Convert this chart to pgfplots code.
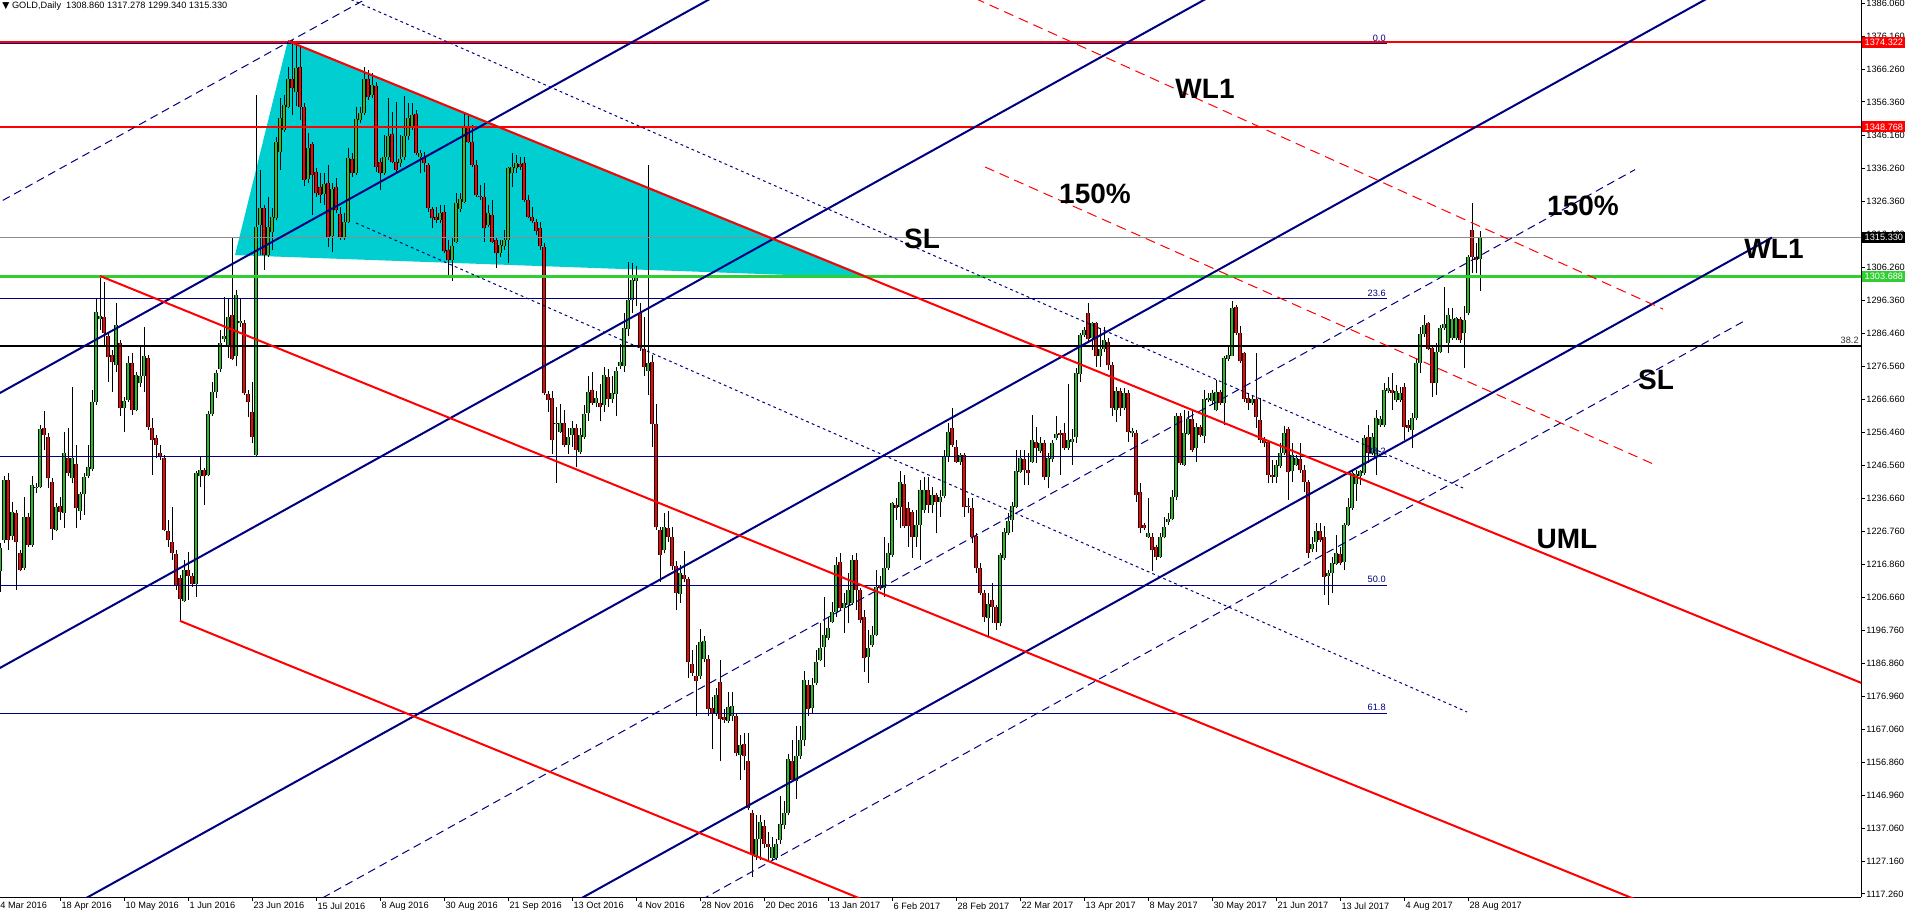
\documentclass[border=0pt]{standalone}
\usepackage{pgfplots}
\pgfplotsset{compat=1.18}
\usepackage{pgfplotstable}
\usepackage{fontspec}
\setmainfont{Liberation Sans}
\newfontfamily\djv{DejaVu Sans}

\definecolor{navyc}{RGB}{0,0,128}
\definecolor{redc}{RGB}{255,0,0}
\definecolor{limec}{RGB}{50,205,50}
\definecolor{cyanc}{RGB}{0,206,209}
\definecolor{candg}{RGB}{40,190,40}
\definecolor{grayc}{RGB}{140,140,140}

\newcommand\mt{\fontsize{4.6}{5.5}\selectfont}
\newcommand\lbl{\fontsize{14}{16}\selectfont\bfseries}

% daily candles, k = bar index (4 px per bar)
\pgfplotstableread{
k o h l c
0 1214.6 1223.1 1208.5 1221.6
1 1224.1 1243.3 1223.1 1242.2
2 1242.2 1244.3 1221.1 1224.1
3 1225.2 1235.7 1224.1 1232.7
4 1232.2 1233.2 1209.1 1223.6
5 1220.1 1221.1 1214.6 1215.1
6 1215.6 1237.2 1215.1 1231.2
7 1231.2 1232.2 1222.1 1222.6
8 1222.6 1243.3 1222.1 1240.7
9 1239.7 1241.2 1238.2 1240.0
10 1240.0 1258.9 1239.7 1257.5
11 1257.8 1262.9 1251.3 1255.8
12 1255.1 1256.3 1239.7 1242.7
13 1241.7 1242.7 1224.1 1227.4
14 1227.2 1235.2 1226.7 1234.2
15 1234.4 1237.2 1230.2 1232.7
16 1232.2 1256.8 1227.7 1250.3
17 1248.8 1257.8 1243.3 1244.3
18 1242.7 1270.4 1241.2 1248.8
19 1247.0 1252.8 1227.7 1233.7
20 1232.9 1238.7 1230.2 1237.9
21 1237.9 1244.3 1231.7 1243.1
22 1243.5 1252.8 1242.7 1246.1
23 1245.5 1269.4 1244.8 1265.9
24 1265.9 1297.1 1264.9 1292.8
25 1290.7 1304.1 1287.5 1291.7
26 1291.3 1302.1 1282.5 1286.7
27 1285.7 1287.0 1271.9 1279.3
28 1280.0 1281.5 1268.9 1277.7
29 1277.0 1295.6 1274.9 1289.0
30 1283.5 1284.5 1261.4 1263.9
31 1263.9 1267.4 1256.8 1266.2
32 1266.4 1279.5 1265.9 1277.5
33 1277.5 1280.5 1261.9 1263.4
34 1263.4 1274.9 1262.9 1273.9
35 1271.4 1283.0 1270.4 1273.7
36 1273.6 1288.5 1268.9 1279.7
37 1279.0 1280.0 1257.3 1258.3
38 1257.8 1260.9 1243.8 1254.3
39 1254.8 1255.8 1248.8 1252.8
40 1250.5 1252.8 1248.3 1249.3
41 1249.0 1249.8 1226.7 1227.2
42 1226.7 1230.2 1222.1 1224.1
43 1223.4 1234.2 1218.1 1220.1
44 1219.9 1221.1 1209.1 1210.3
45 1212.6 1213.6 1199.8 1206.2
46 1205.8 1218.1 1205.5 1215.1
47 1215.1 1220.6 1206.0 1213.3
48 1213.3 1214.1 1210.0 1210.9
49 1210.9 1244.8 1207.0 1244.3
50 1243.3 1249.3 1240.0 1245.1
51 1245.1 1245.8 1234.7 1243.5
52 1243.8 1262.9 1243.3 1262.2
53 1262.1 1271.9 1261.4 1268.9
54 1268.9 1275.4 1266.9 1274.4
55 1275.7 1287.5 1274.9 1283.7
56 1284.7 1297.6 1284.0 1285.7
57 1282.3 1297.1 1279.0 1291.3
58 1292.0 1315.7 1278.5 1278.7
59 1279.5 1299.6 1276.5 1298.1
60 1289.5 1297.1 1288.5 1290.3
61 1289.5 1290.5 1267.9 1268.4
62 1268.2 1269.4 1261.2 1265.9
63 1262.7 1271.9 1253.3 1255.3
64 1249.8 1358.4 1249.6 1318.5
65 1319.2 1335.8 1310.1 1324.2
66 1324.2 1325.2 1305.6 1310.1
67 1310.1 1327.7 1309.6 1318.7
68 1317.2 1324.2 1311.6 1321.5
69 1321.4 1345.8 1320.7 1344.3
70 1341.3 1357.4 1335.8 1351.4
71 1347.9 1358.4 1347.3 1355.4
72 1354.9 1367.0 1354.4 1363.2
73 1363.2 1375.0 1352.5 1360.4
74 1359.4 1374.0 1355.0 1366.5
75 1367.0 1373.5 1350.9 1354.9
76 1354.9 1355.9 1331.0 1332.8
77 1333.0 1346.9 1331.8 1342.3
78 1343.5 1344.3 1322.2 1334.3
79 1335.3 1336.3 1327.7 1328.7
80 1330.8 1334.8 1325.7 1328.2
81 1328.6 1334.8 1325.2 1331.6
82 1331.8 1337.3 1312.6 1315.7
83 1316.0 1331.8 1311.1 1330.0
84 1330.6 1333.3 1322.7 1323.7
85 1322.5 1324.7 1314.7 1315.7
86 1315.2 1322.7 1314.7 1320.2
87 1320.2 1342.3 1319.7 1339.3
88 1339.0 1340.8 1333.8 1335.0
89 1335.0 1354.9 1334.3 1351.1
90 1350.9 1354.9 1349.9 1352.9
91 1353.1 1367.0 1352.4 1363.2
92 1363.2 1366.0 1356.9 1357.9
93 1358.4 1365.0 1357.4 1361.4
94 1361.1 1362.4 1335.3 1336.8
95 1338.3 1339.3 1329.8 1335.0
96 1334.8 1346.4 1334.3 1339.8
97 1339.8 1357.4 1338.8 1345.9
98 1346.7 1353.4 1337.8 1338.3
99 1338.3 1356.4 1335.3 1335.8
100 1338.0 1346.4 1336.8 1339.0
101 1339.6 1358.1 1338.8 1346.1
102 1345.9 1356.1 1344.8 1351.4
103 1348.4 1355.9 1347.9 1352.4
104 1352.6 1353.9 1340.3 1340.8
105 1339.8 1341.8 1334.8 1341.0
106 1339.3 1341.3 1335.3 1338.0
107 1337.3 1337.8 1323.2 1324.2
108 1323.9 1324.7 1318.2 1321.2
109 1321.7 1324.7 1319.7 1320.7
110 1320.7 1325.2 1319.7 1322.7
111 1323.2 1325.2 1310.6 1311.3
112 1311.6 1314.7 1304.1 1308.6
113 1308.6 1315.2 1302.4 1312.8
114 1314.2 1328.7 1313.7 1325.9
115 1323.9 1328.7 1323.2 1326.9
116 1326.2 1352.9 1325.7 1348.7
117 1348.7 1352.4 1343.8 1344.3
118 1344.3 1349.4 1336.8 1337.3
119 1337.3 1338.8 1327.7 1328.2
120 1327.9 1331.3 1326.7 1327.5
121 1327.5 1331.8 1314.2 1318.2
122 1319.2 1325.2 1318.7 1322.7
123 1322.2 1326.7 1313.7 1314.2
124 1314.7 1315.2 1306.1 1310.6
125 1310.6 1314.7 1309.6 1313.2
126 1312.7 1317.7 1311.6 1314.7
127 1314.7 1336.8 1307.6 1336.3
128 1334.8 1340.8 1330.8 1336.8
129 1336.3 1340.3 1334.8 1337.8
130 1337.6 1339.8 1335.8 1336.8
131 1337.8 1339.8 1326.2 1326.7
132 1326.7 1328.2 1321.2 1321.7
133 1321.5 1324.7 1319.7 1320.5
134 1320.2 1320.9 1316.2 1317.5
135 1318.2 1320.2 1311.6 1312.7
136 1312.4 1313.7 1267.9 1268.4
137 1268.1 1269.2 1262.8 1266.4
138 1267.1 1269.2 1250.0 1254.3
139 1259.0 1264.2 1241.4 1259.3
140 1256.7 1265.2 1256.4 1259.5
141 1259.5 1263.2 1252.1 1252.8
142 1252.8 1257.8 1250.0 1255.3
143 1255.7 1260.0 1252.1 1257.8
144 1257.8 1259.2 1246.1 1251.4
145 1250.7 1257.8 1250.0 1255.7
146 1255.3 1264.9 1254.7 1262.1
147 1262.4 1273.5 1260.0 1268.9
148 1269.5 1274.9 1264.9 1265.6
149 1265.6 1269.2 1264.2 1267.1
150 1265.6 1271.3 1259.9 1264.2
151 1264.9 1276.3 1262.8 1273.8
152 1273.2 1275.6 1264.2 1266.6
153 1266.6 1273.5 1265.6 1268.5
154 1268.1 1276.3 1261.4 1275.2
155 1276.6 1283.4 1275.6 1277.7
156 1276.6 1292.7 1274.9 1288.0
157 1287.7 1307.9 1285.6 1296.5
158 1296.5 1307.7 1292.7 1302.7
159 1302.2 1306.9 1294.8 1304.1
160 1292.7 1295.5 1281.3 1282.0
161 1281.7 1291.3 1273.5 1276.3
162 1275.2 1337.3 1267.8 1277.5
163 1277.7 1279.9 1252.1 1259.2
164 1259.0 1265.2 1227.2 1227.9
165 1227.2 1227.9 1211.5 1219.6
166 1221.1 1232.2 1220.1 1227.9
167 1227.6 1232.9 1223.6 1225.0
168 1225.0 1227.9 1215.1 1216.2
169 1216.2 1217.9 1203.0 1208.0
170 1207.7 1216.5 1205.1 1214.0
171 1213.4 1220.8 1211.5 1212.2
172 1212.2 1213.0 1182.6 1187.3
173 1186.6 1190.9 1183.0 1184.0
174 1183.0 1192.3 1171.0 1181.6
175 1183.0 1197.3 1182.3 1193.4
176 1188.3 1195.2 1187.3 1193.7
177 1188.3 1189.5 1171.0 1173.1
178 1173.5 1176.6 1161.0 1171.7
179 1171.7 1179.5 1171.0 1177.4
180 1181.2 1188.0 1157.4 1170.2
181 1170.7 1173.1 1168.8 1169.8
182 1169.5 1178.1 1168.8 1173.8
183 1171.0 1178.1 1169.5 1174.1
184 1171.0 1171.7 1158.8 1159.8
185 1159.3 1165.3 1151.7 1162.1
186 1162.4 1166.0 1154.6 1158.8
187 1157.4 1166.0 1142.5 1143.2
188 1141.8 1142.5 1122.5 1128.9
189 1128.5 1141.0 1127.5 1133.9
190 1133.9 1141.0 1127.5 1138.9
191 1137.9 1139.6 1131.1 1132.2
192 1132.5 1136.1 1126.8 1131.4
193 1128.2 1134.6 1127.5 1131.4
194 1128.2 1133.9 1127.5 1132.5
195 1133.7 1146.7 1132.5 1138.5
196 1138.2 1145.3 1136.8 1141.8
197 1141.8 1159.6 1141.0 1158.1
198 1157.4 1163.8 1151.0 1151.7
199 1151.3 1168.1 1146.0 1158.8
200 1158.8 1168.1 1158.1 1163.8
201 1163.8 1184.5 1162.0 1182.0
202 1180.2 1182.0 1171.0 1173.0
203 1173.5 1182.5 1172.0 1180.4
204 1180.9 1190.9 1180.4 1187.4
205 1187.9 1199.0 1187.5 1191.4
206 1191.9 1207.0 1185.9 1195.5
207 1194.5 1201.0 1193.9 1197.5
208 1199.5 1205.5 1199.0 1202.5
209 1202.5 1219.1 1201.0 1216.6
210 1217.6 1220.1 1203.0 1203.5
211 1203.5 1208.0 1196.0 1205.0
212 1204.5 1214.1 1199.0 1209.0
213 1205.0 1219.6 1204.5 1218.1
214 1218.1 1220.1 1203.0 1209.0
215 1209.0 1209.5 1199.0 1200.0
216 1201.0 1203.0 1184.4 1188.4
217 1188.9 1197.0 1180.9 1191.6
218 1192.4 1198.0 1191.9 1195.5
219 1195.5 1215.1 1195.0 1210.0
220 1210.3 1213.1 1209.0 1209.5
221 1209.5 1225.1 1207.0 1215.6
222 1215.6 1223.1 1215.1 1220.1
223 1219.6 1235.7 1219.1 1235.2
224 1234.7 1236.7 1230.2 1233.7
225 1234.2 1244.8 1227.7 1241.7
226 1241.0 1243.7 1227.7 1228.2
227 1233.7 1235.7 1222.1 1228.2
228 1232.7 1233.2 1218.6 1225.1
229 1225.1 1233.2 1222.1 1228.7
230 1228.7 1242.2 1218.1 1239.2
231 1233.2 1243.2 1232.2 1239.2
232 1239.2 1243.2 1232.2 1234.7
233 1234.7 1240.2 1232.2 1237.7
234 1237.7 1238.2 1226.1 1235.7
235 1235.7 1239.2 1231.2 1237.0
236 1237.4 1251.3 1236.7 1249.5
237 1249.3 1259.3 1247.8 1256.8
238 1258.0 1263.9 1252.3 1252.8
239 1252.3 1254.3 1247.3 1247.8
240 1247.8 1250.3 1246.8 1249.8
241 1249.8 1250.3 1231.2 1234.2
242 1234.4 1236.7 1232.2 1234.2
243 1233.7 1236.7 1223.1 1225.1
244 1225.3 1226.1 1214.1 1215.6
245 1215.6 1217.1 1207.5 1208.0
246 1208.2 1209.0 1199.5 1201.0
247 1200.5 1208.0 1195.0 1204.8
248 1206.0 1211.1 1199.0 1204.0
249 1204.0 1204.5 1197.0 1199.0
250 1199.0 1220.1 1198.0 1219.6
251 1218.6 1227.7 1218.1 1226.6
252 1226.1 1232.2 1225.6 1229.7
253 1230.2 1235.7 1226.6 1234.4
254 1234.2 1251.3 1233.7 1244.8
255 1244.5 1251.3 1244.3 1248.8
256 1248.5 1251.3 1240.7 1245.1
257 1245.1 1250.3 1240.7 1244.3
258 1247.5 1261.9 1247.3 1254.3
259 1253.8 1258.3 1247.3 1251.8
260 1251.1 1255.3 1250.3 1253.3
261 1253.5 1254.3 1242.2 1243.0
262 1243.2 1250.3 1239.7 1248.8
263 1248.5 1254.3 1247.8 1253.5
264 1254.8 1261.6 1254.3 1256.1
265 1256.3 1257.3 1243.7 1255.8
266 1256.3 1259.3 1251.3 1251.8
267 1251.8 1271.2 1251.3 1254.3
268 1253.8 1257.5 1246.8 1254.5
269 1255.1 1275.9 1253.3 1274.4
270 1274.2 1286.5 1271.9 1286.0
271 1286.0 1288.5 1285.5 1287.5
272 1292.5 1295.6 1284.0 1284.7
273 1285.0 1290.0 1281.5 1289.7
274 1289.7 1290.0 1276.4 1279.7
275 1279.7 1288.0 1276.4 1281.7
276 1281.7 1288.5 1281.0 1284.5
277 1284.0 1285.0 1275.5 1276.9
278 1276.9 1277.9 1261.4 1263.9
279 1263.4 1270.4 1259.8 1269.2
280 1269.2 1269.9 1261.4 1263.9
281 1263.9 1269.9 1263.4 1268.6
282 1268.6 1269.4 1253.8 1256.8
283 1256.3 1257.8 1255.3 1257.1
284 1256.5 1257.3 1235.7 1237.7
285 1238.7 1241.2 1226.1 1227.6
286 1228.6 1229.2 1227.1 1227.6
287 1225.1 1236.7 1224.6 1226.1
288 1225.1 1226.1 1214.6 1221.1
289 1221.9 1222.6 1218.1 1219.1
290 1219.1 1226.1 1218.6 1224.9
291 1224.9 1231.2 1224.6 1228.1
292 1229.4 1232.2 1228.7 1230.4
293 1230.4 1239.2 1230.2 1237.0
294 1237.0 1262.4 1236.2 1261.4
295 1261.4 1262.4 1246.8 1247.3
296 1246.8 1263.4 1246.3 1256.3
297 1256.1 1262.9 1255.8 1260.5
298 1260.5 1262.9 1250.8 1251.3
299 1251.8 1259.3 1247.8 1258.3
300 1258.3 1258.8 1255.3 1255.8
301 1255.5 1269.4 1253.3 1266.6
302 1266.4 1268.4 1265.9 1266.9
303 1266.0 1269.4 1265.0 1268.6
304 1263.4 1272.4 1262.9 1268.9
305 1268.9 1269.4 1264.9 1265.6
306 1265.6 1279.5 1258.8 1279.0
307 1278.7 1282.5 1278.0 1280.0
308 1279.7 1296.1 1279.5 1294.0
309 1294.5 1295.0 1286.0 1286.7
310 1286.7 1288.7 1277.4 1278.0
311 1280.7 1281.0 1265.9 1266.6
312 1266.9 1268.6 1263.4 1265.6
313 1265.4 1267.9 1264.9 1266.6
314 1266.6 1280.7 1257.8 1261.2
315 1260.3 1266.9 1253.3 1254.3
316 1254.3 1255.3 1252.3 1253.3
317 1253.8 1254.3 1241.2 1243.7
318 1243.7 1248.3 1241.2 1243.2
319 1243.2 1248.3 1241.2 1246.8
320 1246.3 1253.3 1245.8 1250.3
321 1250.3 1258.5 1249.8 1256.5
322 1257.5 1258.3 1236.2 1244.5
323 1244.8 1253.3 1241.7 1249.8
324 1246.8 1249.8 1246.3 1248.8
325 1248.5 1253.3 1244.3 1245.1
326 1245.3 1246.8 1238.7 1241.7
327 1241.7 1242.2 1218.6 1220.1
328 1221.3 1225.1 1220.6 1222.9
329 1223.6 1229.2 1220.6 1226.9
330 1226.9 1229.2 1223.6 1224.1
331 1224.9 1228.2 1207.5 1212.9
332 1213.1 1215.1 1204.5 1214.1
333 1214.1 1219.1 1208.0 1217.3
334 1216.9 1225.6 1216.6 1220.3
335 1219.9 1222.1 1216.6 1217.1
336 1217.6 1229.2 1215.1 1228.7
337 1228.7 1236.7 1228.2 1234.0
338 1233.7 1245.3 1233.2 1244.3
339 1241.0 1245.3 1236.0 1244.0
340 1243.5 1245.3 1240.7 1244.8
341 1244.3 1255.8 1243.7 1254.8
342 1255.1 1258.8 1247.3 1250.3
343 1250.3 1256.3 1249.8 1255.3
344 1249.3 1263.4 1243.7 1260.9
345 1258.8 1261.4 1258.3 1260.5
346 1258.8 1271.4 1258.3 1269.4
347 1269.2 1273.4 1268.4 1269.9
348 1269.4 1274.4 1263.4 1268.6
349 1266.4 1270.9 1265.9 1269.2
350 1266.4 1270.4 1265.9 1268.6
351 1270.2 1271.4 1254.3 1258.3
352 1258.8 1260.3 1256.8 1257.8
353 1257.3 1262.4 1251.8 1260.9
354 1260.9 1279.0 1260.4 1277.4
355 1277.4 1288.5 1274.4 1286.3
356 1286.3 1292.0 1285.5 1289.0
357 1289.5 1290.0 1281.5 1281.7
358 1282.0 1283.0 1267.4 1271.4
359 1271.6 1283.5 1267.9 1281.0
360 1281.0 1289.0 1280.5 1288.0
361 1288.0 1300.6 1287.5 1289.3
362 1283.7 1294.0 1280.5 1292.0
363 1285.0 1294.0 1284.5 1290.7
364 1285.0 1291.5 1284.5 1291.0
365 1290.7 1291.5 1283.5 1284.5
366 1286.5 1294.6 1276.0 1290.5
367 1292.7 1310.1 1292.0 1309.6
368 1317.7 1325.9 1304.6 1309.6
369 1309.6 1313.7 1304.6 1308.6
370 1308.86 1317.28 1299.34 1315.33
}\candles

\begin{document}
\begin{tikzpicture}
\begin{axis}[
    name=ax, at={(0,0)}, anchor=south west,
    scale only axis, width=930.5pt, height=448.5pt,
    xmin=0, xmax=465.25, ymin=1116.35, ymax=1387.1,
    axis x line=bottom, axis y line=right,
    axis line style={-, black, line width=0.5pt},
    tick style={black, line width=0.5pt},
    tick align=outside, major tick length=2pt,
    xtick={15,31,...,367},
    xticklabels={18 Apr 2016, 10 May 2016, 1 Jun 2016, 23 Jun 2016, 15 Jul 2016, 8 Aug 2016, 30 Aug 2016, 21 Sep 2016, 13 Oct 2016, 4 Nov 2016, 28 Nov 2016, 20 Dec 2016, 13 Jan 2017, 6 Feb 2017, 28 Feb 2017, 22 Mar 2017, 13 Apr 2017, 8 May 2017, 30 May 2017, 21 Jun 2017, 13 Jul 2017, 4 Aug 2017, 28 Aug 2017},
    xticklabel style={font=\mt, anchor=north west, inner sep=0pt, xshift=0.6pt, yshift=-0.5pt},
    ytick={1117.26,1127.16,1137.06,1146.96,1156.86,1167.06,1176.96,1186.86,1196.76,1206.66,1216.86,1226.76,1236.66,1246.56,1256.46,1266.66,1276.56,1286.46,1296.36,1306.26,1316.46,1326.36,1336.26,1346.16,1356.36,1366.26,1376.16,1386.06},
    yticklabels={1117.260,1127.160,1137.060,1146.960,1156.860,1167.060,1176.960,1186.860,1196.760,1206.660,1216.860,1226.760,1236.660,1246.560,1256.460,1266.660,1276.560,1286.460,1296.360,1306.260,1316.460,1326.360,1336.260,1346.160,1356.360,1366.260,1376.160,1386.060},
    yticklabel style={font=\mt, anchor=west, inner sep=0pt, xshift=0.5pt},
    scaled ticks=false,
    candle/.style={draw=none, mark=none, forget plot, error bars/.cd, y dir=plus, y explicit, error mark=none},
]
% triangle behind the candles
\addplot[fill=cyanc, draw=none, forget plot] coordinates {(58.75,1310.1) (72,1375.0) (218,1303.2)} -- cycle;

% wicks
\addplot[candle, error bar style={draw=black, line width=0.5pt}]
    table[x=k, y=l, y error plus expr=\thisrow{h}-\thisrow{l}] {\candles};
% bodies
\addplot[candle, error bar style={draw=black, line width=1.6pt}]
    table[x=k, y expr={min(\thisrow{o},\thisrow{c})}, y error plus expr={abs(\thisrow{c}-\thisrow{o})}] {\candles};
\addplot[candle, error bar style={draw=candg, line width=0.7pt}]
    table[x=k, y expr={\thisrow{c}>=\thisrow{o} ? \thisrow{o} : nan}, y error plus expr={\thisrow{c}-\thisrow{o}}] {\candles};
\addplot[candle, error bar style={draw=redc, line width=0.7pt}]
    table[x=k, y expr={\thisrow{c}<\thisrow{o} ? \thisrow{c} : nan}, y error plus expr={\thisrow{o}-\thisrow{c}}] {\candles};

% horizontal levels
\addplot[redc, line width=1pt] coordinates {(0,1374.322) (466,1374.322)};
\addplot[navyc, line width=0.5pt] coordinates {(0,1373.9) (346.75,1373.9)};
\addplot[redc, line width=1pt] coordinates {(0,1348.768) (466,1348.768)};
\addplot[grayc, line width=0.5pt] coordinates {(0,1315.33) (466,1315.33)};
\addplot[limec, line width=1.2pt] coordinates {(0,1303.688) (466,1303.688)};
\addplot[navyc, line width=0.5pt] coordinates {(0,1297.0) (346.75,1297.0)};
\addplot[black, line width=1pt] coordinates {(0,1282.8) (466,1282.8)};
\addplot[navyc, line width=0.5pt] coordinates {(0,1249.2) (346.75,1249.2)};
\addplot[navyc, line width=0.5pt] coordinates {(0,1210.5) (346.75,1210.5)};
\addplot[navyc, line width=0.5pt] coordinates {(0,1171.8) (346.75,1171.8)};

% rising channel
\addplot[navyc, line width=1pt] coordinates {(-10,1261.8) (190,1395.8)};
\addplot[navyc, line width=1pt] coordinates {(-10,1178.8) (315,1396.5)};
\addplot[navyc, line width=1pt] coordinates {(10,1108.3) (440,1396.4)};
\addplot[navyc, line width=1pt] coordinates {(140,1112.4) (443,1315.4)};
\addplot[navyc, line width=0.5pt, dash pattern=on 4pt off 2.5pt] coordinates {(-5,1322.8) (100,1393.1)};
\addplot[navyc, line width=0.5pt, dash pattern=on 4pt off 2.5pt] coordinates {(75,1112.3) (408.75,1335.9)};
\addplot[navyc, line width=0.5pt, dash pattern=on 4pt off 2.5pt] coordinates {(172.5,1113.6) (435.75,1290.0)};
\addplot[navyc, line width=0.5pt, dash pattern=on 1.4pt off 1.6pt] coordinates {(85,1388.7) (365.75,1239.8)};
\addplot[navyc, line width=0.5pt, dash pattern=on 1.4pt off 1.6pt] coordinates {(89,1319.8) (366.75,1172.2)};

% falling fork
\addplot[redc, line width=1pt] coordinates {(72,1374.7) (475,1176.2)};
\addplot[redc, line width=1pt] coordinates {(25,1303.8) (415,1112.6)};
\addplot[redc, line width=1pt] coordinates {(45,1199.7) (222.5,1112.2)};
\addplot[redc, line width=0.5pt, dash pattern=on 5pt off 3pt] coordinates {(243.75,1387.6) (415.75,1293.8)};
\addplot[redc, line width=0.5pt, dash pattern=on 5pt off 3pt] coordinates {(246.25,1336.7) (413.75,1246.8)};

% labels
\node[font=\lbl] at (axis cs:301.25,1360.2) {WL1};
\node[font=\lbl] at (axis cs:273.75,1328.5) {150\%};
\node[font=\lbl] at (axis cs:230.5,1315.0) {SL};
\node[font=\lbl] at (axis cs:395.75,1324.9) {150\%};
\node[font=\lbl] at (axis cs:443.5,1311.9) {WL1};
\node[font=\lbl] at (axis cs:414,1272.4) {SL};
\node[font=\lbl] at (axis cs:391.75,1224.4) {UML};

\node[font=\mt, text=navyc, anchor=south east, inner sep=0pt] at ([yshift=1pt]axis cs:346.5,1373.9) {0.0};
\node[font=\mt, text=navyc, anchor=south east, inner sep=0pt] at ([yshift=1pt]axis cs:346.5,1297.0) {23.6};
\node[font=\mt, text=navyc, anchor=south east, inner sep=0pt] at ([yshift=1pt]axis cs:346.5,1249.2) {38.2};
\node[font=\mt, text=navyc, anchor=south east, inner sep=0pt] at ([yshift=1pt]axis cs:346.5,1210.5) {50.0};
\node[font=\mt, text=navyc, anchor=south east, inner sep=0pt] at ([yshift=1pt]axis cs:346.5,1171.8) {61.8};
\node[font=\mt, text=black!80, anchor=south east, inner sep=0pt] at ([yshift=1pt]axis cs:464.75,1282.8) {38.2};

\coordinate (p1) at (axis cs:465.25,1374.322);
\coordinate (p2) at (axis cs:465.25,1348.768);
\coordinate (p3) at (axis cs:465.25,1315.33);
\coordinate (p4) at (axis cs:465.25,1303.688);
\end{axis}

% price tags on the scale
\begin{scope}[every node/.style={font=\mt, text=white, anchor=west, inner sep=0pt, minimum height=5.5pt, minimum width=21.5pt}]
\node[fill=redc] at ([xshift=0.5pt]p1) {1374.322};
\node[fill=redc] at ([xshift=0.5pt]p2) {1348.768};
\node[fill=black] at ([xshift=0.5pt]p3) {1315.330};
\node[fill=limec] at ([xshift=0.5pt]p4) {1303.688};
\end{scope}

\node[font=\mt, anchor=north west, inner sep=0pt] at ([yshift=-2.5pt]ax.south west) {4 Mar 2016};
\node[font=\mt, anchor=north west, inner sep=0pt] at ([xshift=1pt, yshift=-0.5pt]ax.north west) {{\djv ▼}\ GOLD,Daily\ \ 1308.860 1317.278 1299.340 1315.330};

\pgfresetboundingbox
\path[use as bounding box] (0,-10pt) rectangle (952.5pt,448.5pt);
\end{tikzpicture}
\end{document}
